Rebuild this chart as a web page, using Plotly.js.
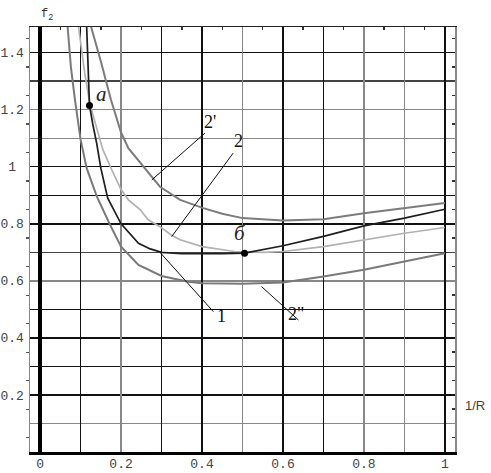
<!DOCTYPE html>
<html>
<head>
<meta charset="utf-8">
<script src="https://cdn.plot.ly/plotly-3.0.1.min.js"></script>
<style>
  html,body{margin:0;padding:0;background:#fff;}
  #chart{width:491px;height:473px;}
</style>
</head>
<body>
<div id="chart"></div>
<script>
// curve 1 (dark) - passes through points a and б
const c1X = [0.115, 0.119, 0.122, 0.130, 0.140, 0.150, 0.167, 0.200, 0.243, 0.272, 0.300, 0.350, 0.400, 0.450, 0.505, 0.600, 0.700, 0.800, 0.900, 1.000];
const c1Y = [1.490, 1.350, 1.215, 1.150, 1.080, 0.995, 0.890, 0.800, 0.732, 0.712, 0.700, 0.695, 0.694, 0.695, 0.697, 0.723, 0.756, 0.793, 0.820, 0.851];
// curve 2 (light gray)
const c2X = [0.095, 0.110, 0.123, 0.140, 0.155, 0.180, 0.200, 0.218, 0.247, 0.267, 0.296, 0.325, 0.346, 0.400, 0.480, 0.550, 0.600, 0.700, 0.800, 0.900, 1.000];
const c2Y = [1.490, 1.330, 1.220, 1.130, 1.060, 0.980, 0.920, 0.884, 0.850, 0.814, 0.790, 0.760, 0.744, 0.720, 0.703, 0.700, 0.703, 0.720, 0.744, 0.767, 0.787];
// curve 2' (upper gray)
const c2pX = [0.126, 0.150, 0.175, 0.200, 0.218, 0.255, 0.296, 0.346, 0.403, 0.450, 0.500, 0.600, 0.700, 0.800, 0.900, 1.000];
const c2pY = [1.490, 1.370, 1.235, 1.120, 1.065, 1.000, 0.930, 0.884, 0.855, 0.835, 0.820, 0.812, 0.816, 0.837, 0.855, 0.873];
// curve 2'' (lower gray)
const c2ppX = [0.068, 0.076, 0.086, 0.100, 0.115, 0.140, 0.173, 0.200, 0.243, 0.300, 0.366, 0.400, 0.500, 0.600, 0.700, 0.800, 0.900, 1.000];
const c2ppY = [1.490, 1.350, 1.235, 1.095, 0.995, 0.896, 0.796, 0.720, 0.656, 0.617, 0.597, 0.592, 0.590, 0.594, 0.615, 0.639, 0.668, 0.697];

// marked points a, б
const ptX = [0.122, 0.505];
const ptY = [1.215, 0.697];
const ptText = ['a', 'б'];
const ptTextX = [0.152, 0.494];
const ptTextY = [1.256, 0.768];

// leader lines: [x0,x1],[y0,y1]
const leadNames = ["2'", '2', '1', '2"'];
const leadX = [[0.407, 0.276], [0.477, 0.325], [0.296, 0.428], [0.547, 0.638]];
const leadY = [[1.118, 0.954], [1.048, 0.755], [0.700, 0.492], [0.580, 0.463]];
const leadTextX = [0.420, 0.491, 0.449, 0.632];
const leadTextY = [1.158, 1.091, 0.477, 0.484];

// axes
const xTicks = [0, 0.2, 0.4, 0.6, 0.8, 1];
const xTickText = ['0', '0.2', '0.4', '0.6', '0.8', '1'];
const yTicks = [0.2, 0.4, 0.6, 0.8, 1, 1.2, 1.4];
const yTickText = ['0.2', '0.4', '0.6', '0.8', '\u00a01\u00a0', '1.2', '1.4'];
const gridBlackX = [0.1, 0.3, 0.4, 0.6, 0.7, 1.0];
const gridGrayX = [0.2, 0.5, 0.8, 0.9];
const gridBlackY = [0.2, 0.3, 0.4, 0.5, 0.8, 0.9, 1.0, 1.4];
const gridDarkY = [0.7, 1.3];
const gridGrayY = [0.1, 0.6, 1.1, 1.2];
const minorX = [0.05, 0.15, 0.25, 0.35, 0.45, 0.55, 0.65, 0.75, 0.85, 0.95];
const minorY = [0.05, 0.15, 0.25, 0.35, 0.45, 0.55, 0.65, 0.75, 0.85, 0.95, 1.05, 1.15, 1.25, 1.35, 1.45];

const xRange = [-0.025, 1.025];
const yRange = [0, 1.49];

const mono = 'Liberation Mono, DejaVu Sans Mono, monospace';
const serif = 'Liberation Serif, DejaVu Serif, serif';

// empty traces so every overlay axis gets drawn
const traces = [
  ['x2','y'], ['x3','y'], ['x4','y'], ['x','y2'], ['x','y3'], ['x','y4'], ['x','y5']
].map(p => ({x:[null], y:[null], xaxis:p[0], yaxis:p[1], mode:'lines'}));

traces.push(
  {x:c2pX, y:c2pY, mode:'lines', line:{color:'#7c7c7c', width:2}},
  {x:c2ppX, y:c2ppY, mode:'lines', line:{color:'#7a7a7a', width:2}},
  {x:c2X, y:c2Y, mode:'lines', line:{color:'#b2b2b2', width:1.7}},
  {x:c1X, y:c1Y, mode:'lines', line:{color:'#1e1e1e', width:1.7}}
);
leadX.forEach((lx, i) => {
  traces.push({x:lx, y:leadY[i], mode:'lines', line:{color:'#111', width:1}});
});
traces.push({x:ptX, y:ptY, mode:'markers', marker:{color:'#000', size:7}});
traces.forEach(t => { t.showlegend = false; t.hoverinfo = 'skip'; });

function gridAxis(range, vals, color, extra){
  return Object.assign({
    range: range, tickmode:'array', tickvals: vals, showticklabels:false, ticks:'',
    showgrid:true, gridcolor: color, gridwidth:1.4, zeroline:false, showline:false
  }, extra);
}

const annotations = [];
ptText.forEach((t, i) => {
  annotations.push({x:ptTextX[i], y:ptTextY[i], xref:'x', yref:'y', text:t, showarrow:false,
    font:{family:serif, size:21, color:'#222', style:'italic'}});
});
leadNames.forEach((t, i) => {
  annotations.push({x:leadTextX[i], y:leadTextY[i], xref:'x', yref:'y', text:t, showarrow:false,
    font:{family:serif, size:18, color:'#111'}});
});
annotations.push({x:0.021, y:1.052, xref:'paper', yref:'paper', text:'f<sub>2</sub>', showarrow:false,
  font:{family:mono, size:12, color:'#333'}});
annotations.push({x:1.075, y:0.087, xref:'paper', yref:'paper', text:'1/R', showarrow:false,
  font:{family:'Liberation Sans, Arial, sans-serif', size:13, color:'#4a3f2a'}});

const layout = {
  width:491, height:473,
  margin:{l:30, r:36, t:27, b:21},
  paper_bgcolor:'#fff', plot_bgcolor:'#fff',
  showlegend:false,
  xaxis:{
    range:xRange, tickmode:'array', tickvals:xTicks, ticktext:xTickText, ticks:'',
    showgrid:false, zeroline:true, zerolinecolor:'#000', zerolinewidth:3.5,
    showline:true, linecolor:'#000', linewidth:3,
    tickfont:{family:mono, size:13, color:'#444'}, ticklabelstandoff:-3
  },
  xaxis2: gridAxis(xRange, gridBlackX, '#111', {overlaying:'x', anchor:'y'}),
  xaxis3: gridAxis(xRange, gridGrayX, '#888', {overlaying:'x', anchor:'y'}),
  xaxis4:{
    range:xRange, overlaying:'x', anchor:'y', side:'top', tickmode:'array', tickvals:minorX,
    ticks:'inside', ticklen:3, tickwidth:1.5, tickcolor:'#333', showticklabels:false,
    showgrid:false, zeroline:false, showline:true, linecolor:'#222', linewidth:1.5
  },
  yaxis:{
    range:yRange, tickmode:'array', tickvals:yTicks, ticktext:yTickText, ticks:'',
    showgrid:false, zeroline:false, showline:true, linecolor:'#888', linewidth:1.5,
    tickfont:{family:mono, size:13, color:'#444'}, ticklabelstandoff:2,
    minor:{tickmode:'array', tickvals:minorY, ticks:'outside', ticklen:3, tickwidth:1.2, tickcolor:'#555', showgrid:false}
  },
  yaxis2: gridAxis(yRange, gridBlackY, '#111', {overlaying:'y', anchor:'x'}),
  yaxis3: gridAxis(yRange, gridDarkY, '#444', {overlaying:'y', anchor:'x'}),
  yaxis4: gridAxis(yRange, gridGrayY, '#888', {overlaying:'y', anchor:'x'}),
  yaxis5:{
    range:yRange, overlaying:'y', anchor:'x', side:'right', tickmode:'array', tickvals:minorY,
    ticks:'inside', ticklen:3, tickwidth:1.5, tickcolor:'#333', showticklabels:false,
    showgrid:false, zeroline:false, showline:true, linecolor:'#888', linewidth:1.5
  },
  annotations: annotations
};

Plotly.newPlot('chart', traces, layout, {displayModeBar:false, staticPlot:true});
</script>
</body>
</html>
